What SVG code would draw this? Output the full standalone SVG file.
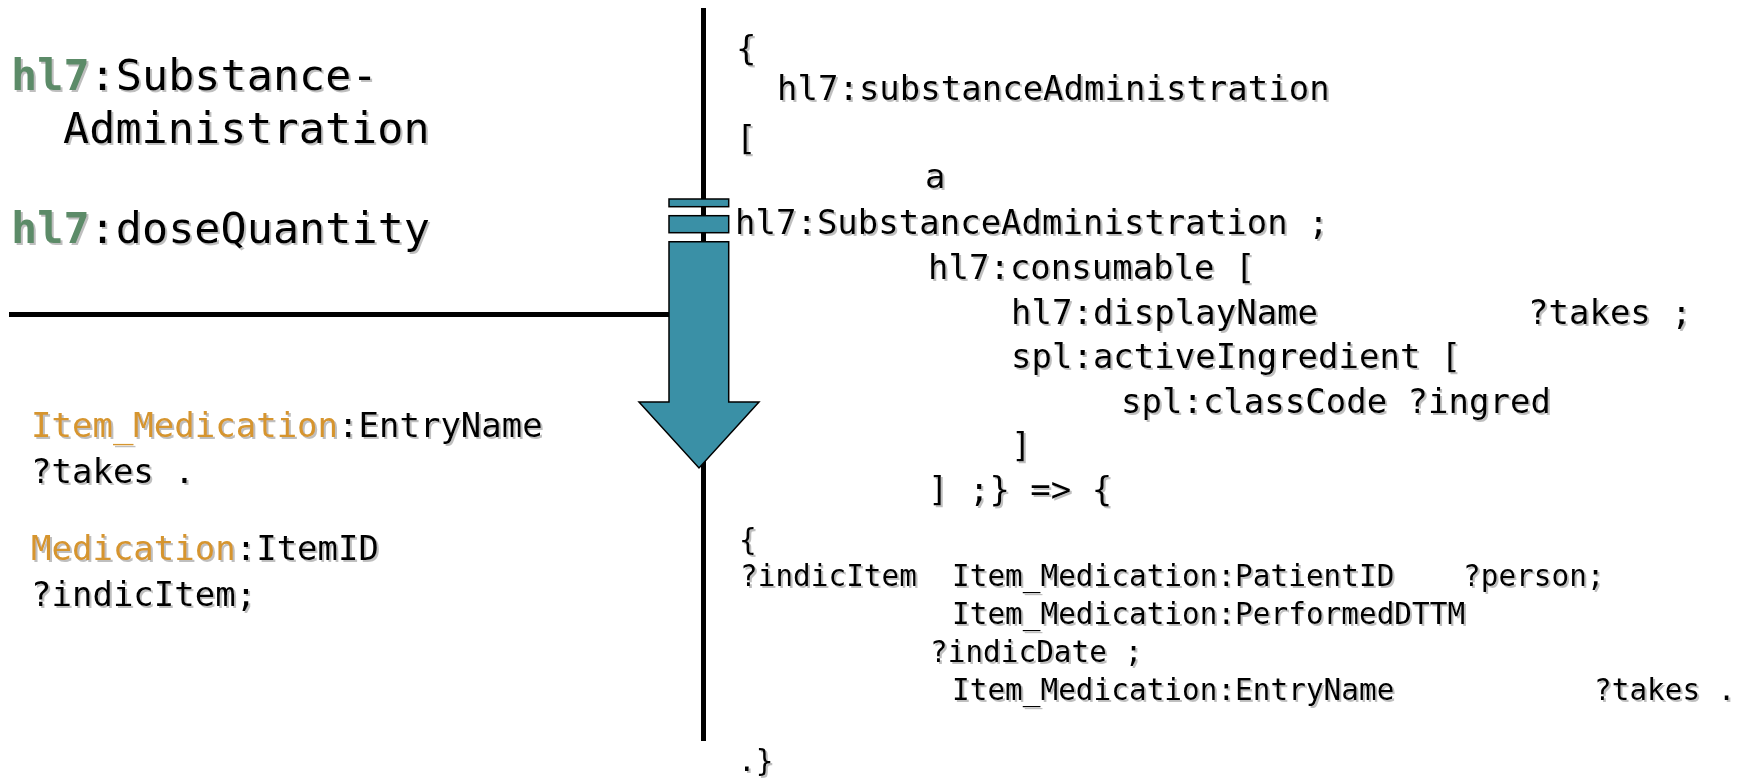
<svg xmlns="http://www.w3.org/2000/svg" width="1743" height="778" viewBox="0 0 1743 778">
<defs>
<filter id="sh" x="-5%" y="-20%" width="110%" height="140%">
<feDropShadow dx="2" dy="2" stdDeviation="0.6" flood-color="#8a8a8a" flood-opacity="0.55"/>
</filter>
<style>
text{font-family:"DejaVu Sans Mono","Liberation Mono",monospace;fill:#000;filter:url(#sh)}
.big{font-size:43.5px}
.mid{font-size:34px}
.sm{font-size:29.4px}
.g{fill:#5B8B67;font-weight:bold}
.o{fill:#D6952E}
.ln{stroke:#000;stroke-width:5;fill:none}
.teal{fill:#3A90A6;stroke:#000;stroke-width:1.5}
</style>
</defs>
<rect width="1743" height="778" fill="#fff"/>
<g id="connectors">
<line class="ln" x1="703.5" y1="8" x2="703.5" y2="741"/>
<line class="ln" x1="9" y1="314.5" x2="670" y2="314.5"/>
</g>
<g id="arrow">
<rect class="teal" x="669" y="199" width="59.7" height="7.7"/>
<rect class="teal" x="669" y="215.7" width="59.7" height="17"/>
<polygon class="teal" points="669,241.7 728.7,241.7 728.7,402 759,402 699,468 639,402 669,402"/>
</g>
<g id="ontology-terms">
<text class="big" x="11" y="90"><tspan class="g">hl7</tspan>:Substance-</text>
<text class="big" x="63" y="143">Administration</text>
<text class="big" x="11" y="243"><tspan class="g">hl7</tspan>:doseQuantity</text>
</g>
<g id="archetype-terms">
<text class="mid" x="31" y="437"><tspan class="o">Item_Medication</tspan>:EntryName</text>
<text class="mid" x="31" y="483">?takes .</text>
<text class="mid" x="31" y="560"><tspan class="o">Medication</tspan>:ItemID</text>
<text class="mid" x="31" y="606">?indicItem;</text>
</g>
<g id="rule-antecedent">
<text class="mid" x="736" y="60">{</text>
<text class="mid" x="777" y="100">hl7:substanceAdministration</text>
<text class="mid" x="736" y="150">[</text>
<text class="mid" x="925" y="188">a</text>
<text class="mid" x="735" y="234">hl7:SubstanceAdministration ;</text>
<text class="mid" x="928" y="279">hl7:consumable [</text>
<text class="mid" x="1011" y="324">hl7:displayName</text>
<text class="mid" x="1528" y="324">?takes ;</text>
<text class="mid" x="1011" y="368">spl:activeIngredient [</text>
<text class="mid" x="1121" y="413">spl:classCode ?ingred</text>
<text class="mid" x="1011" y="457">]</text>
<text class="mid" x="928" y="501">] ;} =&gt; {</text>
</g>
<g id="rule-consequent">
<text class="sm" x="739" y="550">{</text>
<text class="sm" x="740" y="586">?indicItem</text>
<text class="sm" x="952" y="586">Item_Medication:PatientID</text>
<text class="sm" x="1463" y="586">?person;</text>
<text class="sm" x="952" y="624">Item_Medication:PerformedDTTM</text>
<text class="sm" x="930" y="662">?indicDate ;</text>
<text class="sm" x="952" y="700">Item_Medication:EntryName</text>
<text class="sm" x="1594" y="700">?takes .</text>
<text class="sm" x="738" y="771">.}</text>
</g>
</svg>
